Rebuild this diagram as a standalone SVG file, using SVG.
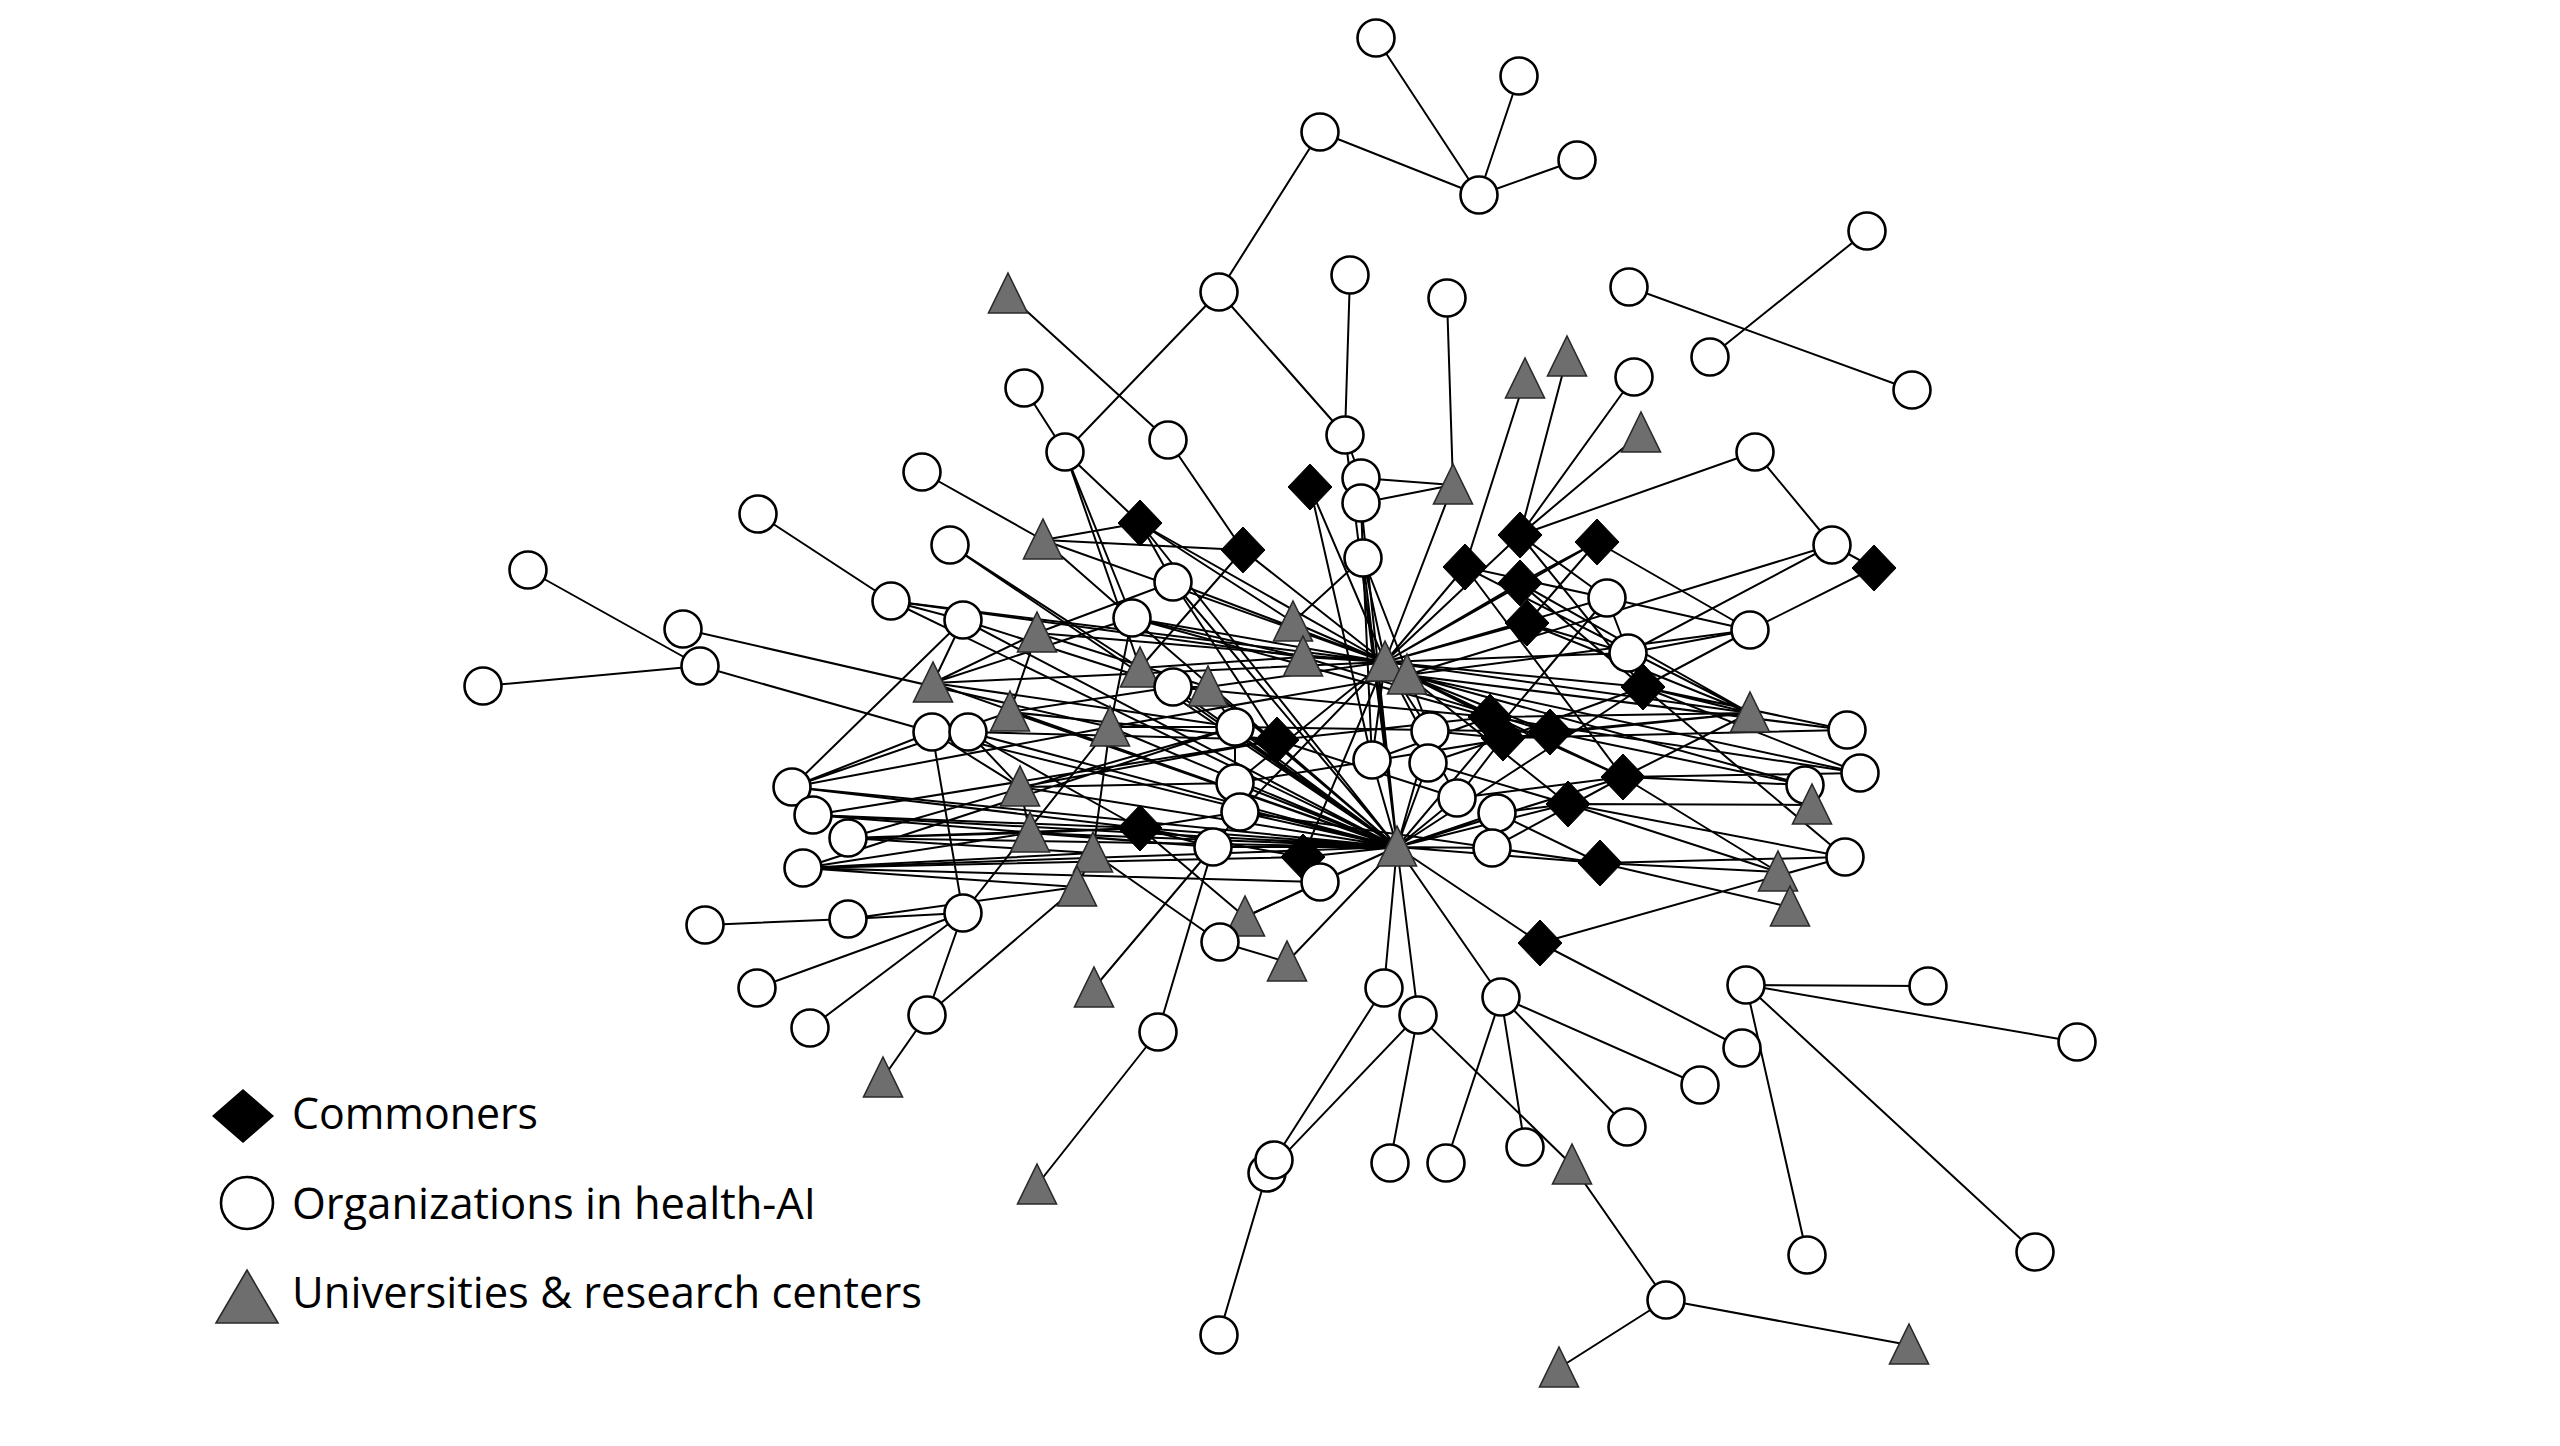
<svg xmlns="http://www.w3.org/2000/svg" xmlns:xlink="http://www.w3.org/1999/xlink" width="2560" height="1446" viewBox="0 0 2560 1446">
<style>
.e path{stroke:#000;stroke-width:2;fill:none}
.lbl{font-family:"Open Sans","Liberation Sans",sans-serif;font-size:43px;fill:#000}
</style>
<defs>
<circle id="org" cx="0" cy="0" r="18.5" fill="#fff" stroke="#000" stroke-width="2.6"/>
<polygon id="com" points="0,-23 22,0 0,23 -22,0" fill="#000" stroke="#000" stroke-width="1"/>
<polygon id="uni" points="0,-21 19.5,19 -19.5,19" fill="#6e6e6e" stroke="#2a2a2a" stroke-width="1.6"/>
</defs>
<rect width="2560" height="1446" fill="#fff"/>
<g id="connectors" class="e">
<path d="M1376 38L1479 195M1519 76L1479 195M1577 160L1479 195M1320 132L1479 195M1320 132L1219 292M1219 292L1065 452M1219 292L1345 435M1008 294L1168 440M1350 275L1345 435M1447 298L1453 485M1024 388L1065 452M1629 287L1912 390M1867 231L1710 357"/>
<path d="M1567 357L1520 535M1634 377L1520 535M1641 433L1520 535M1755 452L1520 535M1525 379L1465 567M1755 452L1832 545M1832 545L1874 568M1832 545L1628 653M1874 568L1750 630M1597 542L1750 630M1607 598L1750 630M1607 598L1628 653M1750 630L1628 653M1750 630L1643 687M1628 653L1643 687M1345 435L1361 478M1361 478L1453 485M1361 503L1453 485M1361 503L1363 558M1361 478L1361 503"/>
<path d="M922 472L1043 540M950 545L1140 668M1043 540L1140 523M1043 540L1243 550M1043 540L1132 618M1140 523L1173 582M1140 523L1293 622M1243 550L1385 662M1243 550L1140 668M1168 440L1243 550M1065 452L1140 523M1065 452L1132 618M1065 452L1140 668M1310 487L1385 662M1310 487L1372 760M758 514L891 601M528 570L700 666M483 686L700 666M683 629L1110 727M700 666L932 732M891 601L963 620"/>
<path d="M1385 662L1453 485M1385 662L1520 535M1385 662L1465 567M1385 662L1520 583M1385 662L1527 623M1385 662L1597 542M1385 662L1607 598M1385 662L1628 653M1385 662L1643 687M1385 662L1750 713M1385 662L1363 558M1385 662L1140 523M1385 662L1293 622M1385 662L1173 582M1385 662L1043 540M1385 662L1132 618M1385 662L1372 760M1385 662L1430 731M1385 662L1457 798M1385 662L1240 812M1385 662L1235 783M1385 662L1303 857M1385 662L933 683M1385 662L1303 657M1385 662L1208 687M1385 662L891 601M1385 662L1037 633"/>
<path d="M1407 675L1550 732M1407 675L1490 717M1407 675L1623 777M1407 675L1568 804M1407 675L1847 730M1407 675L1805 785M1407 675L1750 630M1407 675L1860 773M1407 675L1832 545M1407 675L1110 727"/>
<path d="M1397 847L1384 988M1397 847L1418 1015M1397 847L1501 997M1397 847L1287 962M1397 847L1320 882M1397 847L1303 857M1397 847L1457 798M1397 847L1497 813M1397 847L1492 848M1397 847L1428 763M1397 847L1372 760M1397 847L1430 731M1397 847L1240 812M1397 847L1235 783M1397 847L1235 727M1397 847L1140 523M1397 847L1623 777M1397 847L1568 804M1397 847L1600 863M1397 847L1643 687M1397 847L1213 847M1397 847L1540 943M1397 847L1245 917M1397 847L1173 687M1397 847L1208 687M1397 847L1140 668M1397 847L1132 618M1397 847L1173 582M1397 847L1363 558M1397 847L891 601M1397 847L963 620M1397 847L933 683M1397 847L1010 712M1397 847L932 732M1397 847L813 815M1397 847L848 838M1397 847L803 868M1397 847L792 787M1397 847L1110 727M1397 847L968 732M1397 847L1020 787M1397 847L1030 833M1397 847L1140 828M1397 847L1607 598M1397 847L950 545M1397 847L1345 435M1397 847L1361 503"/>
<path d="M1465 567L1750 713M1520 583L1750 713M1527 623L1750 713M1527 623L1628 653M1465 567L1607 598M1520 535L1607 598M1597 542L1520 583M1597 542L1527 623M1490 717L1750 713M1503 738L1847 730M1550 732L1750 713M1550 732L1805 785M1623 777L1750 713M1623 777L1805 785M1623 777L1860 773M1623 777L1778 872M1568 804L1845 857M1568 804L1778 872M1568 804L1812 805M1600 863L1845 857M1600 863L1790 907M1600 863L1778 872M1643 687L1750 713M1643 687L1847 730M1643 687L1860 773M1643 687L1845 857M1540 943L1845 857M1540 943L1742 1048M1490 717L1623 777M1503 738L1643 687M1503 738L1750 713M1520 583L1643 687M1520 535L1643 687M1465 567L1623 777M1490 717L1860 773"/>
<path d="M1235 727L1550 732M1235 783L1550 732M1240 812L1600 863M1428 763L1503 738M1428 763L1568 804M1457 798L1503 738M1457 798L1623 777M1497 813L1568 804M1497 813L1600 863M1492 848L1600 863M1492 848L1623 777M1277 740L1490 717M1277 740L1457 798M1372 760L1490 717M1372 760L1363 558M1430 731L1503 738M1430 731L1363 558M1132 618L1490 717M1303 657L1550 732M1173 687L1490 717M1173 582L1277 740M1293 622L1363 558"/>
<path d="M792 787L963 620M792 787L1010 712M792 787L932 732M792 787L1140 828M792 787L1110 727M813 815L1140 828M813 815L1277 740M813 815L1213 847M848 838L1235 727M848 838L1140 828M848 838L1093 853M848 838L1030 833M803 868L1030 833M803 868L1303 857M803 868L1320 882M803 868L1093 853M803 868L1077 887M803 868L1235 727M932 732L1020 787M932 732L963 913M968 732L1020 787M968 732L1140 828M968 732L1277 740M1020 787L1030 833M1020 787L1277 740M1020 787L1235 783M1030 833L1140 828M1030 833L1213 847M1140 828L1213 847M1140 828L1303 857M1140 828L1240 812M1093 853L1077 887M1093 853L1220 942M1093 853L1110 727M1110 727L1132 618M1110 727L1235 727M1010 712L1037 633M1010 712L1173 687M1010 712L1277 740M933 683L1037 633M933 683L1132 618M933 683L1235 727M1037 633L1173 582M1037 633L1208 687M1140 668L1303 657M1208 687L1173 687M1208 687L1235 727M1303 657L1132 618M1235 727L1235 783M1235 783L1240 812M1240 812L1213 847M1303 857L1320 882M1320 882L1245 917M1245 917L1140 828M1220 942L1287 962M891 601L1303 657M963 620L1173 687M963 620L933 683"/>
<path d="M848 919L1077 887M848 919L963 913M848 919L705 925M963 913L757 988M963 913L810 1028M963 913L927 1015M963 913L1110 727M927 1015L1077 887M927 1015L883 1078M1094 988L1213 847M1158 1032L1213 847M1158 1032L1037 1185M1274 1160L1384 988M1267 1173L1418 1015M1267 1173L1219 1335M1418 1015L1390 1163M1418 1015L1572 1165M1501 997L1446 1163M1501 997L1525 1147M1501 997L1627 1127M1501 997L1700 1085M1572 1165L1666 1300M1666 1300L1559 1368M1666 1300L1909 1345M1746 985L1928 986M1746 985L2077 1042M1746 985L1807 1255M1746 985L2035 1252"/>
</g>
<g id="nodes">
<g id="n1"><use href="#org" x="1376" y="38"/></g>
<g id="n2"><use href="#org" x="1519" y="76"/></g>
<g id="n3"><use href="#org" x="1320" y="132"/></g>
<g id="n4"><use href="#org" x="1577" y="160"/></g>
<g id="n5"><use href="#org" x="1479" y="195"/></g>
<g id="n6"><use href="#org" x="1219" y="292"/></g>
<g id="n7"><use href="#uni" x="1008" y="294"/></g>
<g id="n8"><use href="#org" x="1350" y="275"/></g>
<g id="n9"><use href="#org" x="1447" y="298"/></g>
<g id="n10"><use href="#org" x="1629" y="287"/></g>
<g id="n11"><use href="#org" x="1867" y="231"/></g>
<g id="n12"><use href="#org" x="1710" y="357"/></g>
<g id="n13"><use href="#org" x="1912" y="390"/></g>
<g id="n14"><use href="#org" x="1024" y="388"/></g>
<g id="n15"><use href="#uni" x="1525" y="379"/></g>
<g id="n16"><use href="#uni" x="1567" y="357"/></g>
<g id="n17"><use href="#org" x="1634" y="377"/></g>
<g id="n18"><use href="#uni" x="1641" y="433"/></g>
<g id="n19"><use href="#org" x="1065" y="452"/></g>
<g id="n20"><use href="#org" x="1168" y="440"/></g>
<g id="n21"><use href="#org" x="1345" y="435"/></g>
<g id="n22"><use href="#org" x="922" y="472"/></g>
<g id="n23"><use href="#com" x="1310" y="487"/></g>
<g id="n24"><use href="#org" x="1361" y="478"/></g>
<g id="n25"><use href="#org" x="1361" y="503"/></g>
<g id="n26"><use href="#uni" x="1453" y="485"/></g>
<g id="n27"><use href="#org" x="1755" y="452"/></g>
<g id="n28"><use href="#org" x="758" y="514"/></g>
<g id="n29"><use href="#org" x="950" y="545"/></g>
<g id="n30"><use href="#uni" x="1043" y="540"/></g>
<g id="n31"><use href="#com" x="1140" y="523"/></g>
<g id="n32"><use href="#com" x="1243" y="550"/></g>
<g id="n33"><use href="#com" x="1520" y="535"/></g>
<g id="n34"><use href="#com" x="1597" y="542"/></g>
<g id="n35"><use href="#org" x="1832" y="545"/></g>
<g id="n36"><use href="#com" x="1874" y="568"/></g>
<g id="n37"><use href="#org" x="528" y="570"/></g>
<g id="n38"><use href="#org" x="891" y="601"/></g>
<g id="n39"><use href="#org" x="1173" y="582"/></g>
<g id="n40"><use href="#org" x="1363" y="558"/></g>
<g id="n41"><use href="#com" x="1465" y="567"/></g>
<g id="n42"><use href="#com" x="1520" y="583"/></g>
<g id="n43"><use href="#org" x="1607" y="598"/></g>
<g id="n44"><use href="#org" x="683" y="629"/></g>
<g id="n45"><use href="#org" x="700" y="666"/></g>
<g id="n46"><use href="#org" x="483" y="686"/></g>
<g id="n47"><use href="#org" x="963" y="620"/></g>
<g id="n48"><use href="#uni" x="1037" y="633"/></g>
<g id="n49"><use href="#org" x="1132" y="618"/></g>
<g id="n50"><use href="#uni" x="1293" y="622"/></g>
<g id="n51"><use href="#com" x="1527" y="623"/></g>
<g id="n52"><use href="#org" x="1750" y="630"/></g>
<g id="n53"><use href="#uni" x="933" y="683"/></g>
<g id="n54"><use href="#uni" x="1140" y="668"/></g>
<g id="n55"><use href="#uni" x="1208" y="687"/></g>
<g id="n56"><use href="#uni" x="1303" y="657"/></g>
<g id="n57"><use href="#uni" x="1385" y="662"/></g>
<g id="n58"><use href="#uni" x="1407" y="675"/></g>
<g id="n59"><use href="#org" x="1628" y="653"/></g>
<g id="n60"><use href="#com" x="1643" y="687"/></g>
<g id="n61"><use href="#org" x="1173" y="687"/></g>
<g id="n62"><use href="#uni" x="1010" y="712"/></g>
<g id="n63"><use href="#uni" x="1110" y="727"/></g>
<g id="n64"><use href="#org" x="932" y="732"/></g>
<g id="n65"><use href="#org" x="968" y="732"/></g>
<g id="n66"><use href="#org" x="1235" y="727"/></g>
<g id="n67"><use href="#com" x="1277" y="740"/></g>
<g id="n68"><use href="#org" x="1372" y="760"/></g>
<g id="n69"><use href="#org" x="1430" y="731"/></g>
<g id="n70"><use href="#com" x="1490" y="717"/></g>
<g id="n71"><use href="#com" x="1503" y="738"/></g>
<g id="n72"><use href="#com" x="1550" y="732"/></g>
<g id="n73"><use href="#uni" x="1750" y="713"/></g>
<g id="n74"><use href="#org" x="1847" y="730"/></g>
<g id="n75"><use href="#org" x="792" y="787"/></g>
<g id="n76"><use href="#org" x="813" y="815"/></g>
<g id="n77"><use href="#org" x="848" y="838"/></g>
<g id="n78"><use href="#uni" x="1020" y="787"/></g>
<g id="n79"><use href="#uni" x="1030" y="833"/></g>
<g id="n80"><use href="#com" x="1140" y="828"/></g>
<g id="n81"><use href="#org" x="1235" y="783"/></g>
<g id="n82"><use href="#org" x="1240" y="812"/></g>
<g id="n83"><use href="#org" x="1428" y="763"/></g>
<g id="n84"><use href="#org" x="1457" y="798"/></g>
<g id="n85"><use href="#org" x="1497" y="813"/></g>
<g id="n86"><use href="#com" x="1623" y="777"/></g>
<g id="n87"><use href="#com" x="1568" y="804"/></g>
<g id="n88"><use href="#org" x="1805" y="785"/></g>
<g id="n89"><use href="#org" x="1860" y="773"/></g>
<g id="n90"><use href="#uni" x="1812" y="805"/></g>
<g id="n91"><use href="#org" x="803" y="868"/></g>
<g id="n92"><use href="#uni" x="1093" y="853"/></g>
<g id="n93"><use href="#org" x="1213" y="847"/></g>
<g id="n94"><use href="#com" x="1303" y="857"/></g>
<g id="n95"><use href="#uni" x="1397" y="847"/></g>
<g id="n96"><use href="#org" x="1492" y="848"/></g>
<g id="n97"><use href="#com" x="1600" y="863"/></g>
<g id="n98"><use href="#org" x="1845" y="857"/></g>
<g id="n99"><use href="#org" x="1320" y="882"/></g>
<g id="n100"><use href="#uni" x="1077" y="887"/></g>
<g id="n101"><use href="#org" x="848" y="919"/></g>
<g id="n102"><use href="#org" x="963" y="913"/></g>
<g id="n103"><use href="#org" x="705" y="925"/></g>
<g id="n104"><use href="#uni" x="1245" y="917"/></g>
<g id="n105"><use href="#org" x="1220" y="942"/></g>
<g id="n106"><use href="#uni" x="1287" y="962"/></g>
<g id="n107"><use href="#com" x="1540" y="943"/></g>
<g id="n108"><use href="#uni" x="1778" y="872"/></g>
<g id="n109"><use href="#uni" x="1790" y="907"/></g>
<g id="n110"><use href="#org" x="757" y="988"/></g>
<g id="n111"><use href="#uni" x="1094" y="988"/></g>
<g id="n112"><use href="#org" x="927" y="1015"/></g>
<g id="n113"><use href="#org" x="810" y="1028"/></g>
<g id="n114"><use href="#org" x="1158" y="1032"/></g>
<g id="n115"><use href="#org" x="1384" y="988"/></g>
<g id="n116"><use href="#org" x="1501" y="997"/></g>
<g id="n117"><use href="#org" x="1746" y="985"/></g>
<g id="n118"><use href="#org" x="1928" y="986"/></g>
<g id="n119"><use href="#org" x="2077" y="1042"/></g>
<g id="n120"><use href="#org" x="1418" y="1015"/></g>
<g id="n121"><use href="#org" x="1742" y="1048"/></g>
<g id="n122"><use href="#org" x="1700" y="1085"/></g>
<g id="n123"><use href="#uni" x="883" y="1078"/></g>
<g id="n124"><use href="#org" x="1627" y="1127"/></g>
<g id="n125"><use href="#org" x="1525" y="1147"/></g>
<g id="n126"><use href="#org" x="1446" y="1163"/></g>
<g id="n127"><use href="#org" x="1390" y="1163"/></g>
<g id="n129"><use href="#org" x="1267" y="1173"/></g>
<g id="n128"><use href="#org" x="1274" y="1160"/></g>
<g id="n130"><use href="#uni" x="1572" y="1165"/></g>
<g id="n131"><use href="#uni" x="1037" y="1185"/></g>
<g id="n132"><use href="#org" x="1807" y="1255"/></g>
<g id="n133"><use href="#org" x="2035" y="1252"/></g>
<g id="n134"><use href="#org" x="1666" y="1300"/></g>
<g id="n135"><use href="#org" x="1219" y="1335"/></g>
<g id="n136"><use href="#uni" x="1559" y="1368"/></g>
<g id="n137"><use href="#uni" x="1909" y="1345"/></g>
</g>
<g id="legend">
<polygon points="243,1089 274,1116 243,1143 212,1116" fill="#000"/>
<text class="lbl" x="292" y="1129" textLength="246" lengthAdjust="spacingAndGlyphs">Commoners</text>
<circle cx="247" cy="1203" r="26" fill="#fff" stroke="#000" stroke-width="2.6"/>
<text class="lbl" x="292" y="1219" textLength="524" lengthAdjust="spacingAndGlyphs">Organizations in health-AI</text>
<polygon points="247,1270 278,1323 216,1323" fill="#6e6e6e" stroke="#2a2a2a" stroke-width="1.6"/>
<text class="lbl" x="292" y="1308" textLength="630" lengthAdjust="spacingAndGlyphs">Universities &amp; research centers</text>
</g>
</svg>
